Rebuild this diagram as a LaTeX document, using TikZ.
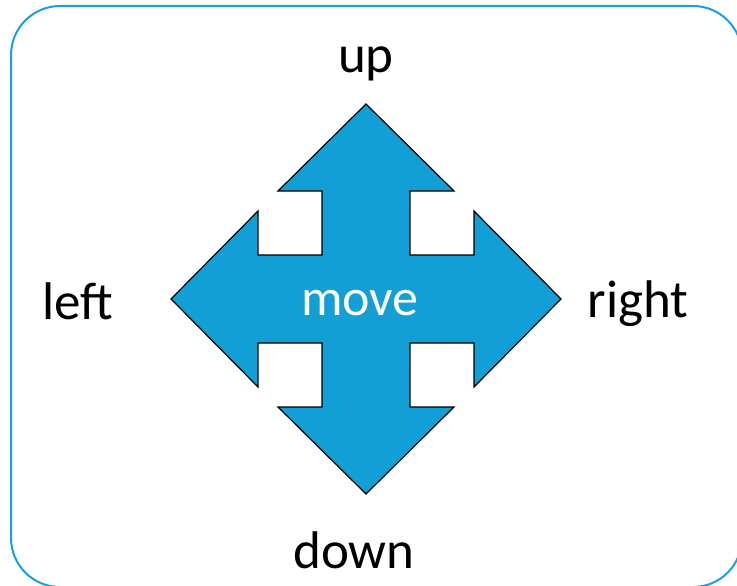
\documentclass[tikz,border=0pt]{standalone}
\usepackage{fontspec}
\setmainfont{Carlito}
\definecolor{frameblue}{RGB}{28,160,220}
\definecolor{arrowblue}{RGB}{17,159,214}
\begin{document}
\begin{tikzpicture}[x=1pt,y=-1pt,
  lbl/.style={anchor=base,font=\fontsize{53}{60}\selectfont,text=black,inner sep=0pt},
  mv/.style={anchor=base,font=\fontsize{52}{60}\selectfont,text=white,inner sep=0pt}]
\useasboundingbox (0,0) rectangle (737,586);
\begin{scope}
\clip (0,0) rectangle (737,586);
\draw[frameblue,line width=2pt,rounded corners=49pt] (11,6) rectangle (742,587);
\end{scope}
\draw[fill=arrowblue,draw=black,line width=1.2pt,line join=miter]
 (366,104) -- (454,191) -- (410,191) -- (410,255) -- (474,255) -- (474,211)
 -- (561,299) -- (474,387) -- (474,343) -- (410,343) -- (410,407) -- (454,407)
 -- (366,494) -- (278,407) -- (322,407) -- (322,343) -- (258,343) -- (258,387)
 -- (171,299) -- (258,211) -- (258,255) -- (322,255) -- (322,191) -- (278,191) -- cycle;
\node[mv] (move) at (360,315) {move};
\node[lbl] (up) at (366,73) {up};
\node[lbl] (left) at (78,319) {left};
\node[lbl] (right) at (638,317) {right};
\node[lbl] (down) at (354,568) {down};
\end{tikzpicture}
\end{document}
